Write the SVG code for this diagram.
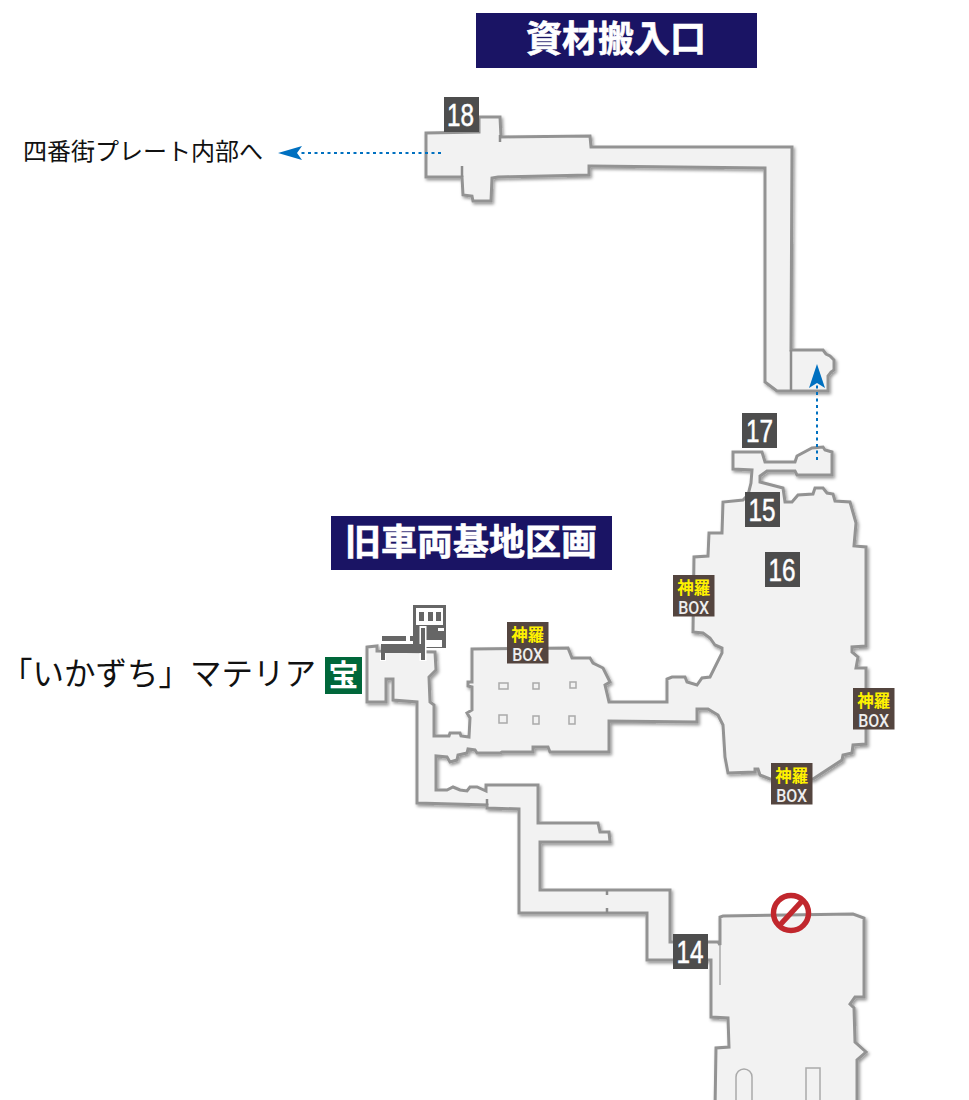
<svg xmlns="http://www.w3.org/2000/svg" width="969" height="1100" viewBox="0 0 969 1100">
<defs>
<filter id="sh" x="-5%" y="-5%" width="110%" height="110%"><feDropShadow dx="1.500" dy="2" stdDeviation="1.800" flood-color="#000" flood-opacity="0.4"/></filter>
</defs>
<style>
.wall{fill:#f2f2f2;stroke:#939393;stroke-width:3;stroke-linejoin:miter;stroke-miterlimit:3;filter:url(#sh)}
.thin{fill:none;stroke:#aaa;stroke-width:1.500}
.tick{fill:none;stroke:#8c8c8c;stroke-width:2.500}
.dot{fill:none;stroke:#0070c0;stroke-width:2;stroke-dasharray:3 3.500}
.head{fill:#0070c0}
.banner{fill:#1a1464}
.bt{font-family:"Noto Sans CJK JP","Noto Sans",sans-serif;font-weight:700;font-size:36px;fill:#fff;stroke:#fff;stroke-width:.6;text-anchor:middle}
.lab{font-family:"Noto Sans CJK JP","Noto Sans",sans-serif;fill:#111}
.num{fill:#4d4d4d}
.nt{font-family:"Liberation Sans",Arial,sans-serif;font-size:31px;fill:#fff;stroke:#fff;stroke-width:.5;text-anchor:middle}
.sr{fill:#54453f}
.s1{font-family:"Noto Sans CJK JP",sans-serif;font-weight:700;font-size:16.500px;fill:#fff100;text-anchor:middle}
.s2{font-family:"Roboto","Liberation Sans",sans-serif;font-weight:500;font-size:18px;fill:#eee;text-anchor:middle}
.ic{fill:#666}
.icw{fill:#fff}
</style>
<g id="map">
<path class="wall" d="M426 133 L479 132 L479 117 L500 117 L501 137 L590 136 L591 147 L792 147 L791 350 L823 350 L826 354 L830 356 L834 360 L834 370 L831 372 L828 376 L828 391 L777 391 L765 382 L765 168 L591 166 L589 166 L589 175 L498 177 L492 178 L491 201 L473 201 L472 196 L463 195 L462 177 L426 177 Z"/>
<path class="wall" d="M367 647 L377 646 L377 651 L435 652 L436 670 L429 677 L430 702 L434 705 L434 736 L449 736 L450 733 L460 733 L461 736 L469 737 L470 718 L467 713 L472 710 L472 687 L468 686 L468 682 L472 682 L472 649 L568 648 L572 658 L590 658 L593 663 L603 668 L610 682 L605 685 L609 702 L667 702 L667 679 L672 677 L685 677 L687 682 L697 685 L702 678 L710 677 L722 653 L722 648 L715 645 L710 638 L703 633 L693 632 L694 557 L708 556 L709 533 L722 533 L723 502 L743 500 L748 495 L751 483 L752 470 L733 469 L733 452 L762 452 L765 462 L795 462 L797 456 L812 448 L823 447 L825 450 L832 452 L832 475 L797 475 L795 471 L767 471 L760 476 L760 482 L783 488 L785 502 L792 502 L798 495 L813 494 L815 488 L823 488 L827 493 L833 494 L835 501 L850 502 L856 523 L854 546 L866 547 L866 646 L852 647 L852 652 L858 657 L856 668 L866 668 L866 744 L853 745 L852 753 L843 755 L842 760 L813 779 L770 779 L760 775 L758 769 L755 769 L755 772 L728 773 L725 757 L723 725 L718 715 L708 709 L697 709 L697 722 L609 721 L609 752 L550 752 L548 747 L533 747 L533 752 L502 752 L500 753 L477 753 L475 750 L468 749 L467 753 L458 755 L457 760 L450 762 L447 757 L436 756 L436 790 L447 790 L453 787 L460 790 L467 791 L470 787 L477 787 L486 791 L486 785 L538 785 L538 823 L598 823 L600 832 L609 832 L610 842 L540 842 L540 890 L670 890 L670 942 L718 942 L720 945 L720 917 L723 916 L853 914 L864 918 L864 997 L855 997 L850 1004 L854 1008 L855 1042 L866 1052 L857 1060 L857 1110 L715 1110 L716 1048 L729 1047 L728 1018 L711 1017 L711 960 L647 960 L647 913 L519 913 L519 809 L487 808 L487 805 L417 803 L417 702 L393 700 L393 679 L386 679 L386 702 L367 702 Z"/>
<path class="tick" d="M791 350V391M462 177V166M500 135V142M487 799V805M607 890V895M607 908V913"/>
<path class="thin" d="M720 945V985"/>
<path class="thin" d="M736 1102V1077a8 8 0 0 1 16 0V1102M806 1102V1068H820V1102"/>
<rect class="thin" x="499" y="683" width="9" height="6"/>
<rect class="thin" x="533" y="683" width="6" height="6"/>
<rect class="thin" x="570" y="682" width="6" height="6"/>
<rect class="thin" x="499" y="715" width="8" height="8"/>
<rect class="thin" x="533" y="716" width="6" height="8"/>
<rect class="thin" x="569" y="716" width="6" height="8"/>
</g>
<g id="connectors">
<path class="dot" d="M441 153H300"/>
<path class="head" d="M278 153L302 146L297 153L302 160Z"/>
<path class="dot" d="M817 460V385"/>
<path class="head" d="M817 364L825 388L817 383L809 388Z"/>
</g>
<g id="title-1"><rect class="banner" x="476" y="13" width="281" height="55"/><text class="bt" x="616" y="52">資材搬入口</text></g>
<g id="title-2"><rect class="banner" x="331" y="516" width="281" height="54"/><text class="bt" x="471" y="555">旧車両基地区画</text></g>
<g id="label-plate"><text class="lab" x="23" y="160" font-size="24">四番街プレート内部へ</text></g>
<g id="label-materia"><text class="lab" x="1" y="685" font-size="31.500">「いかずち」マテリア</text></g>
<g id="treasure"><rect x="325" y="657" width="37" height="37" fill="#00673a"/><text x="343.500" y="686" font-family="Noto Sans CJK JP,sans-serif" font-weight="700" font-size="30" fill="#fff" text-anchor="middle">宝</text></g>
<g id="n18"><rect class="num" x="444" y="97" width="35" height="35"/><text class="nt" x="460.500" y="125.500" textLength="27" lengthAdjust="spacingAndGlyphs">18</text></g>
<g id="n17"><rect class="num" x="742" y="413" width="35" height="35"/><text class="nt" x="759.500" y="441.500" textLength="27" lengthAdjust="spacingAndGlyphs">17</text></g>
<g id="n15"><rect class="num" x="745" y="492" width="35" height="35"/><text class="nt" x="762" y="520.500" textLength="27" lengthAdjust="spacingAndGlyphs">15</text></g>
<g id="n16"><rect class="num" x="765" y="552" width="35" height="35"/><text class="nt" x="782" y="580.500" textLength="27" lengthAdjust="spacingAndGlyphs">16</text></g>
<g id="n14"><rect class="num" x="673" y="934" width="35" height="35"/><text class="nt" x="690" y="962.500" textLength="27" lengthAdjust="spacingAndGlyphs">14</text></g>
<g id="box-1"><rect class="sr" x="507" y="622" width="41.500" height="41.500"/><text class="s1" x="527.700" y="641">神羅</text><text class="s2" x="527.700" y="661" textLength="31" lengthAdjust="spacingAndGlyphs">BOX</text></g>
<g id="box-2"><rect class="sr" x="673" y="575" width="41.500" height="41.500"/><text class="s1" x="693.700" y="594">神羅</text><text class="s2" x="693.700" y="614" textLength="31" lengthAdjust="spacingAndGlyphs">BOX</text></g>
<g id="box-3"><rect class="sr" x="853" y="688" width="41.500" height="41.500"/><text class="s1" x="873.700" y="707">神羅</text><text class="s2" x="873.700" y="727" textLength="31" lengthAdjust="spacingAndGlyphs">BOX</text></g>
<g id="box-4"><rect class="sr" x="771" y="763" width="41.500" height="41.500"/><text class="s1" x="791.700" y="782">神羅</text><text class="s2" x="791.700" y="802" textLength="31" lengthAdjust="spacingAndGlyphs">BOX</text></g>
<g id="no-entry"><circle cx="791" cy="913" r="17.500" fill="none" stroke="#c1272d" stroke-width="5.500"/><path d="M803 900L779 926" stroke="#c1272d" stroke-width="5.500" fill="none"/></g>
<g id="rest-icon">
<rect class="ic" x="413" y="605" width="33" height="43"/>
<rect class="icw" x="416" y="608" width="27" height="17"/>
<rect class="ic" x="419" y="612" width="5" height="9"/><rect class="ic" x="428" y="612" width="5" height="9"/><rect class="ic" x="436" y="612" width="5" height="9"/>
<rect class="icw" x="438" y="628" width="6" height="3"/>
<rect class="icw" x="426" y="640" width="16" height="7"/>
<rect class="icw" x="419.500" y="626" width="7" height="35"/>
<rect class="icw" x="380" y="653" width="6" height="8"/>
<rect class="ic" x="421" y="628" width="4" height="32"/>
<rect class="ic" x="381" y="644" width="44" height="9"/>
<rect class="ic" x="381" y="653" width="4" height="7"/>
<rect class="ic" x="382" y="636" width="24" height="5"/>
<rect class="ic" x="410" y="636" width="7" height="5"/>
</g>
</svg>
